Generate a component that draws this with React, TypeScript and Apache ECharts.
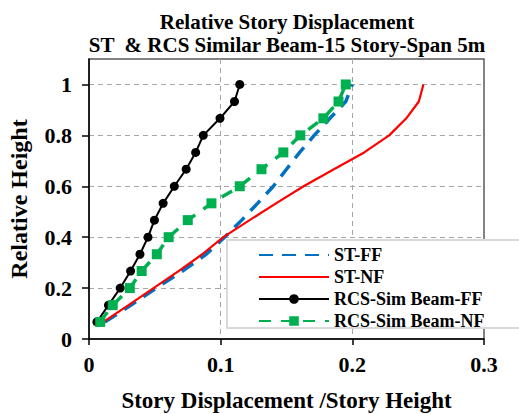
import React, { useEffect, useRef } from "react";
import * as echarts from "echarts";

const storyHeights = [0.067, 0.133, 0.2, 0.267, 0.333, 0.4, 0.467, 0.533, 0.6, 0.667, 0.733, 0.8, 0.867, 0.933, 1];
const stFF = [0.012, 0.032, 0.051, 0.071, 0.089, 0.103, 0.116, 0.128, 0.14, 0.15, 0.16, 0.171, 0.183, 0.195, 0.2];
const stNF = [0.011, 0.03, 0.049, 0.068, 0.086, 0.102, 0.122, 0.142, 0.163, 0.186, 0.209, 0.228, 0.241, 0.2505, 0.254];
const rcsFF = [0.006, 0.0148, 0.0237, 0.0316, 0.0387, 0.0448, 0.0497, 0.0563, 0.0648, 0.0738, 0.081, 0.0868, 0.0995, 0.1105, 0.1145];
const rcsNF = [0.0085, 0.018, 0.031, 0.04, 0.0515, 0.0605, 0.075, 0.093, 0.1145, 0.131, 0.1476, 0.1605, 0.178, 0.1895, 0.195];
const seriesNames = ["ST-FF", "ST-NF", "RCS-Sim Beam-FF", "RCS-Sim Beam-NF"];
const titleLines = ["Relative Story Displacement", "ST  & RCS Similar Beam-15 Story-Span 5m"];
const xAxisTitle = "Story Displacement /Story Height";
const yAxisTitle = "Relative Height";

const FONT = "'Liberation Serif', 'Times New Roman', serif";

const pairs = (xs: number[]) => xs.map((x, i) => [x, storyHeights[i]]);

export default function App() {
  const ref = useRef<HTMLDivElement>(null);
  useEffect(() => {
    if (!ref.current) return;
    const chart = echarts.init(ref.current, undefined, { renderer: "svg" });
    const gridLine = { show: true, showMaxLine: false, showMinLine: false, lineStyle: { color: "#a6a6a6", type: [5, 4], width: 1 } };
    const noMarker = { color: "transparent", opacity: 0, borderWidth: 0 };
    chart.setOption({
      animation: false,
      backgroundColor: "#ffffff",
      grid: {
        left: 89,
        right: 35,
        top: 59,
        bottom: 75,
        show: true,
        borderColor: "#595959",
        borderWidth: 1.5,
        backgroundColor: "transparent",
        containLabel: false,
        outerBoundsMode: "none",
      },
      xAxis: {
        type: "value",
        min: 0,
        max: 0.3,
        interval: 0.1,
        name: xAxisTitle,
        nameLocation: "middle",
        nameGap: 50,
        nameTextStyle: { fontFamily: FONT, fontWeight: "bold", fontSize: 23, color: "#000" },
        axisLine: { show: true, lineStyle: { color: "#000", width: 1.5 } },
        axisTick: { show: true, inside: false, length: 6, lineStyle: { color: "#000", width: 1.5 } },
        axisLabel: { fontFamily: FONT, fontWeight: "bold", fontSize: 22, color: "#000", margin: 14 },
        splitLine: gridLine,
      },
      yAxis: {
        type: "value",
        min: 0,
        max: 1.1,
        interval: 0.2,
        name: yAxisTitle,
        nameLocation: "middle",
        nameGap: 58,
        nameTextStyle: { fontFamily: FONT, fontWeight: "bold", fontSize: 24, color: "#000" },
        axisLine: { show: true, lineStyle: { color: "#000", width: 1.5 } },
        axisTick: { show: true, inside: false, length: 7, lineStyle: { color: "#000", width: 1.5 } },
        axisLabel: { fontFamily: FONT, fontWeight: "bold", fontSize: 22, color: "#000", margin: 17, showMaxLabel: false },
        splitLine: gridLine,
      },
      legend: {
        orient: "vertical",
        left: 258,
        top: 246,
        itemWidth: 70,
        itemHeight: 12,
        itemGap: 4,
        padding: 0,
        z: 10,
        textStyle: { fontFamily: FONT, fontWeight: "bold", fontSize: 18, color: "#000" },
        data: [
          { name: seriesNames[0], itemStyle: noMarker },
          { name: seriesNames[1], itemStyle: noMarker },
          { name: seriesNames[2] },
          { name: seriesNames[3] },
        ],
      },
      graphic: [
        {
          type: "text",
          x: 287,
          y: 10,
          z: 10,
          style: {
            text: titleLines.join("\n"),
            font: `bold 21px ${FONT}`,
            fill: "#000",
            textAlign: "center",
            textVerticalAlign: "top",
            lineHeight: 23,
          },
        },
        {
          type: "rect",
          z: 5,
          shape: { x: 227, y: 240, width: 340, height: 88 },
          style: { fill: "#ffffff", stroke: "#d9d9d9", lineWidth: 2 },
        },
      ],
      series: [
        {
          name: seriesNames[0],
          type: "line",
          data: pairs(stFF),
          symbol: "none",
          lineStyle: { color: "#0070C0", width: 3.5, type: [14, 9] },
          itemStyle: { color: "#0070C0" },
          z: 2,
        },
        {
          name: seriesNames[1],
          type: "line",
          data: pairs(stNF),
          symbol: "none",
          lineStyle: { color: "#FF0000", width: 2.2 },
          itemStyle: { color: "#FF0000" },
          z: 2,
        },
        {
          name: seriesNames[2],
          type: "line",
          data: pairs(rcsFF),
          symbol: "circle",
          symbolSize: 9,
          lineStyle: { color: "#000000", width: 2 },
          itemStyle: { color: "#000000" },
          z: 3,
        },
        {
          name: seriesNames[3],
          type: "line",
          data: pairs(rcsNF),
          symbol: "rect",
          symbolSize: 10,
          lineStyle: { color: "#00B050", width: 3.5, type: [12, 10] },
          itemStyle: { color: "#00B050" },
          z: 3,
        },
      ],
    });
    return () => chart.dispose();
  }, []);
  return (
    <div
      ref={ref}
      style={{ position: "fixed", left: 0, top: 0, width: 519, height: 414, background: "#fff" }}
    />
  );
}
